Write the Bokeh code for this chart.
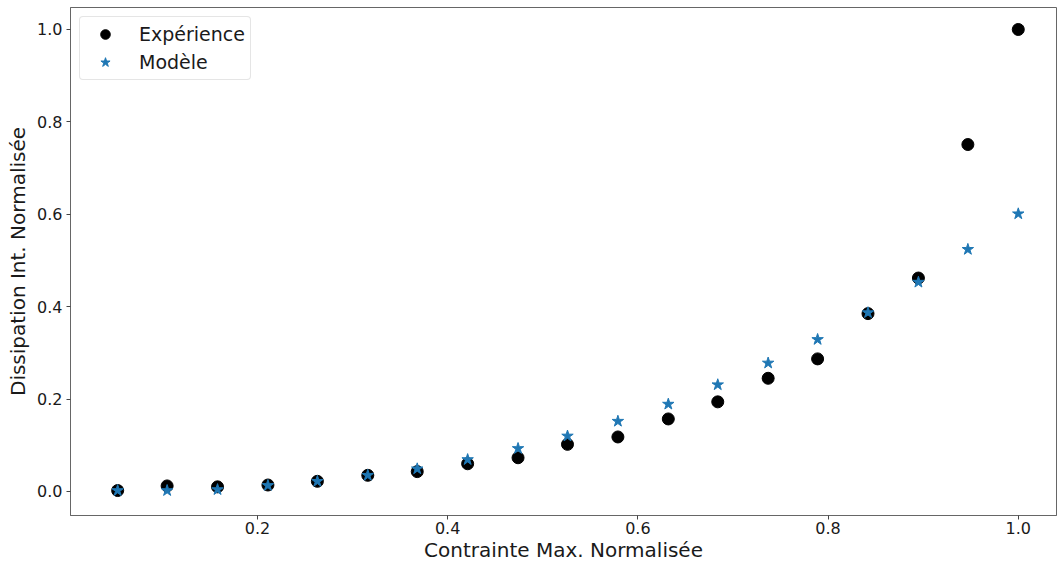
from bokeh.plotting import figure
from bokeh.models import Range1d, FixedTicker, NumeralTickFormatter, Legend, LegendItem
from bokeh.embed import file_html
from bokeh.resources import INLINE

x_vals = [0.053, 0.105, 0.158, 0.211, 0.263, 0.316, 0.368, 0.421, 0.474, 0.526,
          0.579, 0.632, 0.684, 0.737, 0.789, 0.842, 0.895, 0.947, 1.0]
experience = [0.002, 0.012, 0.010, 0.014, 0.022, 0.035, 0.043, 0.060, 0.073, 0.102,
              0.118, 0.157, 0.194, 0.245, 0.287, 0.385, 0.462, 0.751, 1.0]
modele = [0.002, 0.002, 0.004, 0.013, 0.022, 0.035, 0.049, 0.069, 0.093, 0.120,
          0.152, 0.189, 0.231, 0.278, 0.329, 0.387, 0.453, 0.524, 0.601]
x_ticks = [0.2, 0.4, 0.6, 0.8, 1.0]
y_ticks = [0.0, 0.2, 0.4, 0.6, 0.8, 1.0]

FONT = "DejaVu Sans"
TXT = "#1a1a1a"

p = figure(width=1057, height=564, output_backend="svg", toolbar_location=None,
           x_range=Range1d(0.0034, 1.0402), y_range=Range1d(-0.052, 1.0476),
           min_border_left=70, min_border_right=1, min_border_top=7, min_border_bottom=49)

p.xgrid.visible = False
p.ygrid.visible = False
p.outline_line_color = "#666666"
p.outline_line_width = 1
p.background_fill_color = "white"
p.border_fill_color = "white"

r1 = p.scatter(x_vals, experience, marker="circle", size=12, fill_color="black", line_color="black")
r2 = p.scatter(x_vals, modele, marker="star", size=12, fill_color="#1f77b4", line_color="#1f77b4")

for ax, ticks in ((p.xaxis, x_ticks), (p.yaxis, y_ticks)):
    ax.ticker = FixedTicker(ticks=ticks)
    ax.formatter = NumeralTickFormatter(format="0.0")
    ax.major_label_text_font = FONT
    ax.major_label_text_font_size = "16px"
    ax.major_label_text_color = TXT
    ax.axis_label_text_font = FONT
    ax.axis_label_text_font_size = "20px"
    ax.axis_label_text_font_style = "normal"
    ax.axis_label_text_color = TXT
    ax.minor_tick_line_color = None
    ax.major_tick_in = 0
    ax.major_tick_out = 4
    ax.major_tick_line_color = "#444444"
    ax.axis_line_color = "#666666"

p.xaxis.major_label_standoff = 2
p.yaxis.major_label_standoff = 4
p.xaxis.axis_label = "Contrainte Max. Normalisée"
p.yaxis.axis_label = "Dissipation Int. Normalisée"
p.xaxis.axis_label_standoff = 1
p.yaxis.axis_label_standoff = 4

legend = Legend(items=[LegendItem(label="Expérience", renderers=[r1]),
                       LegendItem(label="Modèle", renderers=[r2])],
                location="top_left")
legend.label_text_font = FONT
legend.label_text_font_size = "19px"
legend.label_text_color = TXT
legend.border_line_color = "#cccccc"
legend.border_line_width = 1
legend.border_radius = 4
legend.margin = 9
legend.padding = 5
legend.spacing = 4
legend.glyph_width = 40
legend.glyph_height = 24
legend.label_standoff = 14
p.add_layout(legend)

open("out.html", "w").write(file_html(p, INLINE))
